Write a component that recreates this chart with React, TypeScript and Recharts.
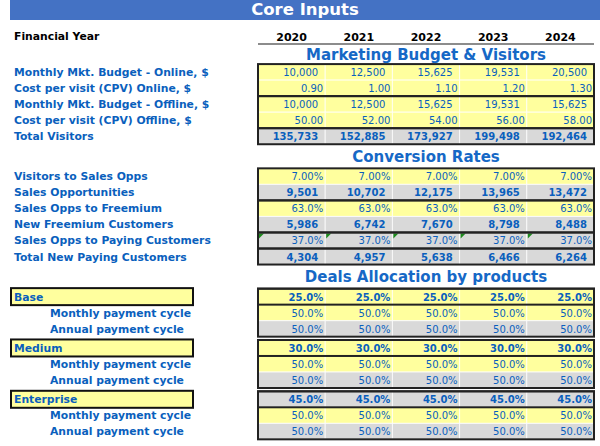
import React from 'react';
import { ScatterChart, Scatter, XAxis, YAxis, ReferenceLine } from 'recharts';

const years = ['2020', '2021', '2022', '2023', '2024'];

// Marketing Budget & Visitors
const budgetOnline = [10000, 12500, 15625, 19531, 20500];
const cpvOnline = [0.9, 1.0, 1.1, 1.2, 1.3];
const budgetOffline = [10000, 12500, 15625, 19531, 15625];
const cpvOffline = [50, 52, 54, 56, 58];
const totalVisitors = [135733, 152885, 173927, 199498, 192464];

// Conversion Rates
const visitorsToOpps = [7, 7, 7, 7, 7];
const salesOpps = [9501, 10702, 12175, 13965, 13472];
const oppsToFreemium = [63, 63, 63, 63, 63];
const newFreemium = [5986, 6742, 7670, 8798, 8488];
const oppsToPaying = [37, 37, 37, 37, 37];
const newPaying = [4304, 4957, 5638, 6466, 6264];

// Deals Allocation by products
const products = ['Base', 'Medium', 'Enterprise'];
const productShare = [
  [25, 25, 25, 25, 25],
  [30, 30, 30, 30, 30],
  [45, 45, 45, 45, 45],
];
const monthlyCycle = [
  [50, 50, 50, 50, 50],
  [50, 50, 50, 50, 50],
  [50, 50, 50, 50, 50],
];
const annualCycle = [
  [50, 50, 50, 50, 50],
  [50, 50, 50, 50, 50],
  [50, 50, 50, 50, 50],
];

const sectionTitles = ['Marketing Budget & Visitors', 'Conversion Rates', 'Deals Allocation by products'];

const W = 600;
const H = 446;
const LEFT = 258;
const RIGHT = 6;
const CELL_W = (W - LEFT - RIGHT) / years.length;
const ROW_H = 16;
const YELLOW = '#FFFF9E';
const GRAY = '#D9D9D9';
const BLUE = '#0A5FBD';
const HEAD_BLUE = '#1668C6';
const FONT = '"DejaVu Sans", Verdana, sans-serif';

type Fmt = 'int' | 'dec2' | 'pct2' | 'pct1';
type Row = {
  slot: number;
  label: string;
  values: number[];
  fmt: Fmt;
  fill: string;
  bold?: boolean;
  indent?: boolean;
  product?: boolean;
  flag?: boolean;
};

const fmtValue = (v: number, f: Fmt) => {
  if (f === 'int') return v.toLocaleString('en-US');
  if (f === 'dec2') return v.toFixed(2);
  if (f === 'pct2') return v.toFixed(2) + '%';
  return v.toFixed(1) + '%';
};

// row layout (slot = row position on the y axis)
const rows: Row[] = [
  { slot: 0, label: 'Monthly Mkt. Budget - Online, $', values: budgetOnline, fmt: 'int', fill: YELLOW },
  { slot: 1, label: 'Cost per visit (CPV) Online, $', values: cpvOnline, fmt: 'dec2', fill: YELLOW },
  { slot: 2, label: 'Monthly Mkt. Budget - Offline, $', values: budgetOffline, fmt: 'int', fill: YELLOW },
  { slot: 3, label: 'Cost per visit (CPV) Offline, $', values: cpvOffline, fmt: 'dec2', fill: YELLOW },
  { slot: 4, label: 'Total Visitors', values: totalVisitors, fmt: 'int', fill: GRAY, bold: true },
  { slot: 6.5, label: 'Visitors to Sales Opps', values: visitorsToOpps, fmt: 'pct2', fill: YELLOW },
  { slot: 7.5, label: 'Sales Opportunities', values: salesOpps, fmt: 'int', fill: GRAY, bold: true },
  { slot: 8.5, label: 'Sales Opps to Freemium', values: oppsToFreemium, fmt: 'pct1', fill: YELLOW },
  { slot: 9.5, label: 'New Freemium Customers', values: newFreemium, fmt: 'int', fill: GRAY, bold: true },
  { slot: 10.5, label: 'Sales Opps to Paying Customers', values: oppsToPaying, fmt: 'pct1', fill: GRAY, flag: true },
  { slot: 11.5, label: 'Total New Paying Customers', values: newPaying, fmt: 'int', fill: GRAY, bold: true },
];
const productStarts = [14, 17.2, 20.4];
products.forEach((p, i) => {
  const s = productStarts[i];
  rows.push({ slot: s, label: p, values: productShare[i], fmt: 'pct1', fill: i === 2 ? GRAY : YELLOW, bold: true, product: true });
  rows.push({ slot: s + 1, label: 'Monthly payment cycle', values: monthlyCycle[i], fmt: 'pct1', fill: YELLOW, indent: true });
  rows.push({ slot: s + 2, label: 'Annual payment cycle', values: annualCycle[i], fmt: 'pct1', fill: GRAY, indent: true });
});

const headingSlots = [-1.1, 5.25, 12.75];
const boxRanges: [number, number][] = [
  [0, 1], [2, 3], [4, 4],
  [6.5, 7.5], [8.5, 9.5], [10.5, 10.5], [11.5, 11.5],
  ...productStarts.map((s) => [s, s + 2] as [number, number]),
  ...productStarts.map((s) => [s, s] as [number, number]),
];
// one point per box, at the middle column, carrying its row span
const boxes = boxRanges.map(([a, b]) => ({ x: (years.length - 1) / 2, y: (a + b) / 2, span: b - a + 1 }));

const cells = rows.flatMap((r) =>
  r.values.map((v, i) => ({
    x: i,
    y: r.slot,
    text: fmtValue(v, r.fmt),
    fill: r.fill,
    bold: !!r.bold,
    pad: r.fmt === 'int' ? 7 : 2,
    flag: !!r.flag,
  }))
);

const CellShape = (props: any) => {
  const { cx, cy, payload } = props;
  const left = cx - CELL_W / 2;
  const top = cy - ROW_H / 2;
  return (
    <g>
      <rect x={left} y={top} width={CELL_W} height={ROW_H} fill={payload.fill} stroke="rgba(255,255,255,0.75)" strokeWidth={1} />
      {payload.flag && (
        <polygon points={`${left + 1},${top + 1} ${left + 6},${top + 1} ${left + 1},${top + 6}`} fill="#1E8A1E" />
      )}
      <text
        x={left + CELL_W - payload.pad}
        y={cy + 4}
        textAnchor="end"
        fontSize={10}
        fontWeight={payload.bold ? 'bold' : 'normal'}
        fontFamily={FONT}
        fill={BLUE}
      >
        {payload.text}
      </text>
    </g>
  );
};

const BoxShape = (props: any) => {
  const { cx, cy, payload } = props;
  const w = CELL_W * years.length;
  const h = ROW_H * payload.span;
  return <rect x={cx - w / 2} y={cy - h / 2} width={w} height={h} fill="none" stroke="#222" strokeWidth={2} />;
};

const RowLabel = (props: any) => {
  const { y, payload } = props;
  const row = rows.find((r) => Math.abs(r.slot - payload.value) < 0.01);
  if (!row) return null;
  return (
    <g>
      {row.product && <rect x={11} y={y - 8.5} width={182} height={17} fill={YELLOW} stroke="#111" strokeWidth={2} />}
      <text
        x={row.indent ? 50 : 14}
        y={y + 4}
        fontSize={10.8}
        fontWeight="bold"
        fontFamily={FONT}
        fill={BLUE}
      >
        {row.label}
      </text>
    </g>
  );
};

const CoreInputs: React.FC = () => {
  return (
    <div style={{ position: 'absolute', left: 0, top: 0, width: W, height: H, background: '#fff', fontFamily: FONT }}>
      <div
        style={{
          position: 'absolute', left: 10, top: 0, width: W - 10, height: 20, background: '#4472C4',
          color: '#fff', fontWeight: 'bold', fontSize: 16.5, lineHeight: '20px', textAlign: 'center',
        }}
      >
        Core Inputs
      </div>
      <div style={{ position: 'absolute', left: 14, top: 30, fontSize: 10.8, fontWeight: 'bold', color: '#000', lineHeight: '14px' }}>
        Financial Year
      </div>
      <ScatterChart width={W} height={H} margin={{ top: 24, right: RIGHT, bottom: 5, left: 0 }}>
        <XAxis
          type="number"
          dataKey="x"
          orientation="top"
          domain={[-0.5, 4.5]}
          ticks={[0, 1, 2, 3, 4]}
          interval={0}
          tickFormatter={(i: number) => years[i]}
          height={20}
          axisLine={{ stroke: '#8C8C8C', strokeWidth: 2 }}
          tickLine={false}
          tickSize={0}
          tickMargin={3}
          tick={{ fill: '#000', fontSize: 11, fontWeight: 'bold', fontFamily: FONT }}
        />
        <YAxis
          type="number"
          dataKey="y"
          domain={[-1.75, 23]}
          reversed
          width={LEFT}
          ticks={rows.map((r) => r.slot)}
          interval={0}
          axisLine={false}
          tickLine={false}
          tick={<RowLabel />}
        />
        <Scatter data={cells} shape={<CellShape />} isAnimationActive={false} />
        <Scatter data={boxes} shape={<BoxShape />} isAnimationActive={false} />
        {headingSlots.map((s, i) => (
          <ReferenceLine
            key={i}
            y={s}
            stroke="none"
            label={{ value: sectionTitles[i], position: 'center', fill: HEAD_BLUE, fontSize: 15, fontWeight: 'bold', fontFamily: FONT }}
          />
        ))}
      </ScatterChart>
    </div>
  );
};

export default function App() {
  return <CoreInputs />;
}
